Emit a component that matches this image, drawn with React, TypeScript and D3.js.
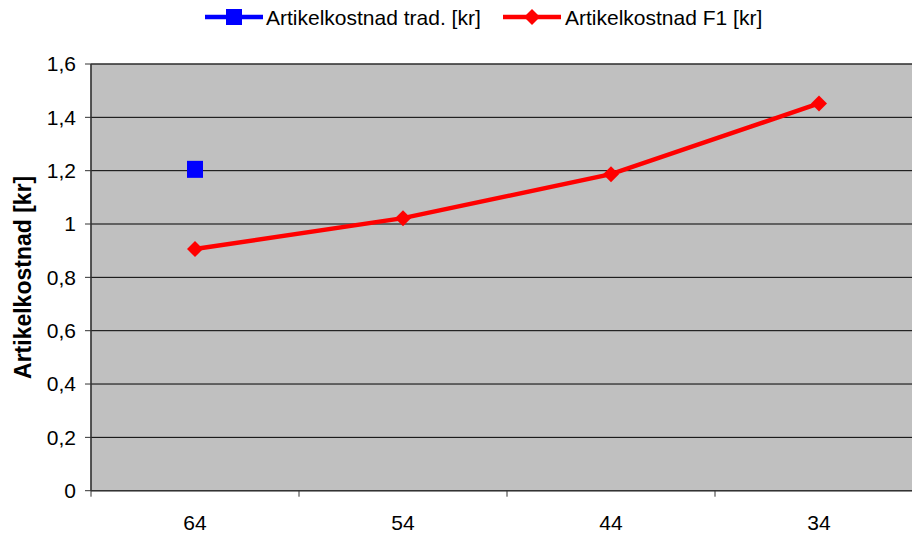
import React from "react";
import * as d3 from "d3";

const categories = ["64", "54", "44", "34"];
const tradValues: (number | null)[] = [1.205, null, null, null];
const f1Values = [0.906, 1.022, 1.187, 1.452];
const yTicks = [0, 0.2, 0.4, 0.6, 0.8, 1, 1.2, 1.4, 1.6];

const W = 912;
const H = 535;
const left = 91;
const top = 64;
const bottom = 490.7;
const bandW = 208;
const font = "Liberation Sans, Arial, sans-serif";
const fs = 21;

export default function App() {
  const x = d3
    .scaleBand<string>()
    .domain(categories)
    .range([left, left + bandW * categories.length])
    .paddingInner(0)
    .paddingOuter(0);
  const y = d3.scaleLinear().domain([0, 1.6]).range([bottom, top]);
  const cx = (c: string) => (x(c) as number) + x.bandwidth() / 2;
  const fmt = (v: number) => String(v).replace(".", ",");

  const line = d3
    .line<number>()
    .x((_, i) => cx(categories[i]))
    .y((d) => y(d));

  const diamond = (px: number, py: number, r: number) =>
    `M${px},${py - r}L${px + r},${py}L${px},${py + r}L${px - r},${py}Z`;

  return (
    <svg
      width={W}
      height={H}
      style={{ position: "absolute", left: 0, top: 0, background: "#fff" }}
    >
      {/* plot area */}
      <rect
        x={left}
        y={top}
        width={W - left + 20}
        height={bottom - top}
        fill="#c0c0c0"
        stroke="#808080"
        strokeWidth={1}
      />
      {/* gridlines */}
      {yTicks.slice(1).map((t) => (
        <line
          key={t}
          x1={left}
          x2={W}
          y1={y(t)}
          y2={y(t)}
          stroke="#000"
          strokeWidth={1}
        />
      ))}
      {/* y axis */}
      <line x1={left} x2={left} y1={top} y2={bottom} stroke="#333" strokeWidth={1.5} />
      {yTicks.map((t) => (
        <g key={t}>
          <line x1={left - 6} x2={left} y1={y(t)} y2={y(t)} stroke="#333" />
          <text
            x={76}
            y={y(t)}
            dy="0.35em"
            textAnchor="end"
            fontFamily={font}
            fontSize={fs}
            fill="#000"
          >
            {fmt(t)}
          </text>
        </g>
      ))}
      {/* x axis */}
      <line x1={left} x2={W} y1={bottom} y2={bottom} stroke="#333" strokeWidth={1.5} />
      {categories.map((c) => (
        <g key={c}>
          <line
            x1={x(c) as number}
            x2={x(c) as number}
            y1={bottom}
            y2={bottom + 6}
            stroke="#333"
          />
          <text
            x={cx(c)}
            y={523}
            dy="0.35em"
            textAnchor="middle"
            fontFamily={font}
            fontSize={fs}
            fill="#000"
          >
            {c}
          </text>
        </g>
      ))}
      {/* y axis title */}
      <text
        transform={`translate(31,${(top + bottom) / 2 + 0}) rotate(-90)`}
        textAnchor="middle"
        fontFamily={font}
        fontSize={23}
        fontWeight="bold"
        fill="#000"
      >
        Artikelkostnad [kr]
      </text>
      {/* series: F1 */}
      <path d={line(f1Values) || ""} fill="none" stroke="#ff0000" strokeWidth={4.5} />
      {f1Values.map((v, i) => (
        <path key={i} d={diamond(cx(categories[i]), y(v), 8)} fill="#ff0000" />
      ))}
      {/* series: trad. */}
      {tradValues.map((v, i) =>
        v == null ? null : (
          <rect
            key={i}
            x={cx(categories[i]) - 8}
            y={y(v) - 8.5}
            width={16}
            height={17}
            fill="#0000ff"
          />
        )
      )}
      {/* legend */}
      <g fontFamily={font} fontSize={fs} fill="#000">
        <line x1={205} x2={263} y1={17} y2={17} stroke="#0000ff" strokeWidth={4.5} />
        <rect x={226} y={9} width={16} height={16} fill="#0000ff" />
        <text x={266} y={18} dy="0.35em">
          Artikelkostnad trad. [kr]
        </text>
        <line x1={503} x2={561} y1={17} y2={17} stroke="#ff0000" strokeWidth={4.5} />
        <path d={diamond(532, 17, 8)} fill="#ff0000" />
        <text x={565} y={18} dy="0.35em">
          Artikelkostnad F1 [kr]
        </text>
      </g>
    </svg>
  );
}
